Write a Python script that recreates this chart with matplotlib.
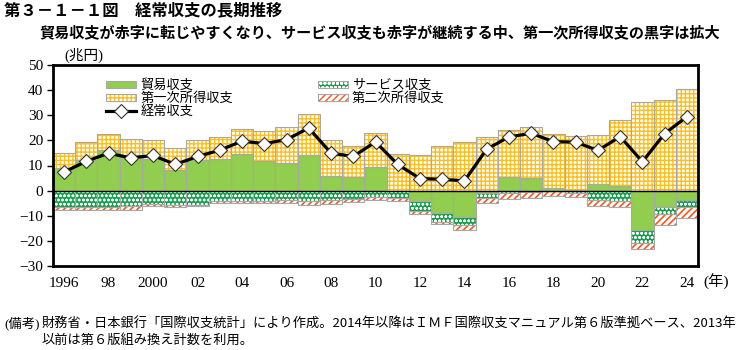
import numpy as np
import matplotlib
matplotlib.use("Agg")
import matplotlib.pyplot as plt
from matplotlib.patches import Patch
from matplotlib.lines import Line2D

JP = ['Noto Sans CJK JP', 'DejaVu Sans']
NUM = 'Liberation Serif'

# data (兆円)
years = list(range(1996, 2025))
trade = [9.0, 12.3, 16.0, 14.1, 12.7, 8.4, 12.2, 12.5, 14.4, 11.8, 11.1, 14.2, 5.8, 5.3,
         9.5, -0.3, -4.3, -8.8, -10.5, -0.9, 5.5, 4.9, 1.1, 0.2, 2.8, 1.8, -15.5, -6.5, -3.9]
services = [-6.7, -6.6, -6.5, -6.2, -5.3, -5.6, -5.6, -4.2, -4.2, -4.1, -3.7, -4.3, -3.9, -3.2,
            -2.7, -2.8, -3.8, -3.5, -3.1, -1.9, -1.1, -0.7, -0.1, -1.1, -3.7, -4.2, -5.4, -3.0, -2.6]
primary = [6.1, 6.9, 6.6, 6.5, 7.6, 8.4, 7.8, 8.7, 10.3, 11.8, 14.2, 16.4, 14.3, 12.6,
           13.6, 14.6, 14.0, 17.6, 19.4, 21.3, 18.8, 20.6, 21.4, 21.6, 19.4, 26.3, 35.2, 36.0, 40.6]
secondary = [-1.0, -1.1, -1.1, -1.4, -1.0, -0.8, -0.6, -0.8, -0.8, -0.8, -1.2, -1.4, -1.4, -1.2,
             -1.1, -1.1, -1.1, -1.0, -2.0, -2.0, -2.1, -2.1, -2.1, -1.4, -2.6, -2.4, -2.5, -4.1, -4.3]
current = [7.4, 11.7, 14.9, 13.0, 14.0, 10.4, 13.6, 16.1, 19.7, 18.7, 20.3, 24.9, 14.9, 13.6,
           19.4, 10.4, 4.8, 4.5, 3.9, 16.5, 21.4, 22.8, 19.5, 19.3, 16.0, 21.5, 11.5, 22.7, 29.4]
xlabels = ['1996', '98', '2000', '02', '04', '06', '08', '10', '12', '14', '16', '18', '20', '22', '24']
names = ['貿易収支', 'サービス収支', '第一次所得収支', '第二次所得収支', '経常収支']

C_TRADE = '#91CD4E'
C_SERV = '#12A04A'
C_PRIM = '#FFBE1A'
C_SEC = '#FF5518'
C_EDGE = '#A8A8A8'

# hatch styles: (hatch, hatch colour, hatch linewidth)
H_PRIM = ('++++', C_PRIM, 1.0)
H_SERV = ('oooo', 'white', 0.7)
H_SEC = ('/////', C_SEC, 1.2)

x = np.array(years)
tr = np.array(trade)
sv = np.array(services)
pr = np.array(primary)
sc = np.array(secondary)
pos_base = np.maximum(tr, 0)
neg_base = np.minimum(tr, 0)

fig = plt.figure(figsize=(7.52, 3.5), dpi=100)
ax = fig.add_axes([53/752, 84/350, 645/752, 201/350])

def stack(vals, bottom, face, hs=None):
    # fill (+ hatch), then a separate grey outline
    if hs:
        with plt.rc_context({'hatch.linewidth': hs[2]}):
            ax.bar(x, vals, 1.0, bottom=bottom, facecolor=face, edgecolor=hs[1], hatch=hs[0],
                   linewidth=0, zorder=2)
    else:
        ax.bar(x, vals, 1.0, bottom=bottom, facecolor=face, linewidth=0, zorder=2)
    ax.bar(x, vals, 1.0, bottom=bottom, facecolor='none', edgecolor=C_EDGE, linewidth=0.8, zorder=2.5)

stack(tr, 0, C_TRADE)
stack(pr, pos_base, 'white', H_PRIM)
stack(sv, neg_base, C_SERV, H_SERV)
stack(sc, neg_base + sv, 'white', H_SEC)

ax.axhline(0, color='black', lw=1.0, zorder=3)
ax.plot(x, current, color='black', lw=2.3, marker='D', markersize=7,
        markerfacecolor='white', markeredgecolor='#333333', markeredgewidth=0.8, zorder=4)

ax.set_xlim(1995.5, 2024.5)
ax.set_ylim(-30, 50)
ax.set_yticks(range(-30, 51, 10))
ax.set_xticks(years[::2])
ax.set_xticklabels(xlabels)
ax.tick_params(axis='x', length=0, pad=8)
ax.tick_params(axis='y', length=4, width=1, direction='out', pad=3)
for lab in ax.get_xticklabels() + ax.get_yticklabels():
    lab.set_fontfamily(NUM)
    lab.set_fontsize(11)
for s in ax.spines.values():
    s.set_linewidth(2)

# legend
def h(face, hs=None):
    if hs:
        with plt.rc_context({'hatch.linewidth': hs[2]}):
            fill = Patch(facecolor=face, edgecolor=hs[1], hatch=hs[0], linewidth=0)
    else:
        fill = Patch(facecolor=face, linewidth=0)
    edge = Patch(facecolor='none', edgecolor=C_EDGE, linewidth=0.8)
    return (fill, edge)

handles = [h(C_TRADE), h('white', H_PRIM),
           Line2D([], [], color='black', lw=2.3, marker='D', markersize=7,
                  markerfacecolor='white', markeredgecolor='#333333', markeredgewidth=0.8),
           h(C_SERV, H_SERV), h('white', H_SEC)]
labels = [names[0], names[2], names[4], names[1], names[3]]
ax.legend(handles, labels, ncol=2, loc='upper left', bbox_to_anchor=(0.068, 0.975),
          frameon=False, prop={'family': JP, 'size': 9.5}, handlelength=2.3,
          handleheight=0.5, labelspacing=0.0, handletextpad=0.3, columnspacing=6.4,
          borderpad=0.2)

fig.text(4/752, 1 - 10/350, '第３－１－１図　経常収支の長期推移', family=JP, fontsize=11.8,
         fontweight='bold', va='center', ha='left')
fig.text(39/752, 1 - 32/350,
         '貿易収支が赤字に転じやすくなり、サービス収支も赤字が継続する中、第一次所得収支の黒字は拡大',
         family=JP, fontsize=10.9, fontweight='bold', va='center', ha='left')
fig.text(64/752, 1 - 55/350, '(兆円)', family=[NUM] + JP, fontsize=10.5, va='center', ha='left')
fig.text(703/752, 1 - 282/350, '(年)', family=[NUM] + JP, fontsize=11, va='center', ha='left')
fig.text(4/752, 1 - 323/350, '(備考)', family=[NUM] + JP, fontsize=9.5, va='center', ha='left')
fig.text(42/752, 1 - 323/350,
         '財務省・日本銀行「国際収支統計」により作成。2014年以降はＩＭＦ国際収支マニュアル第６版準拠ベース、2013年',
         family=JP, fontsize=9.5, va='center', ha='left')
fig.text(42/752, 1 - 340/350, '以前は第６版組み換え計数を利用。',
         family=JP, fontsize=9.5, va='center', ha='left')

fig.savefig('out.png', dpi=100)
